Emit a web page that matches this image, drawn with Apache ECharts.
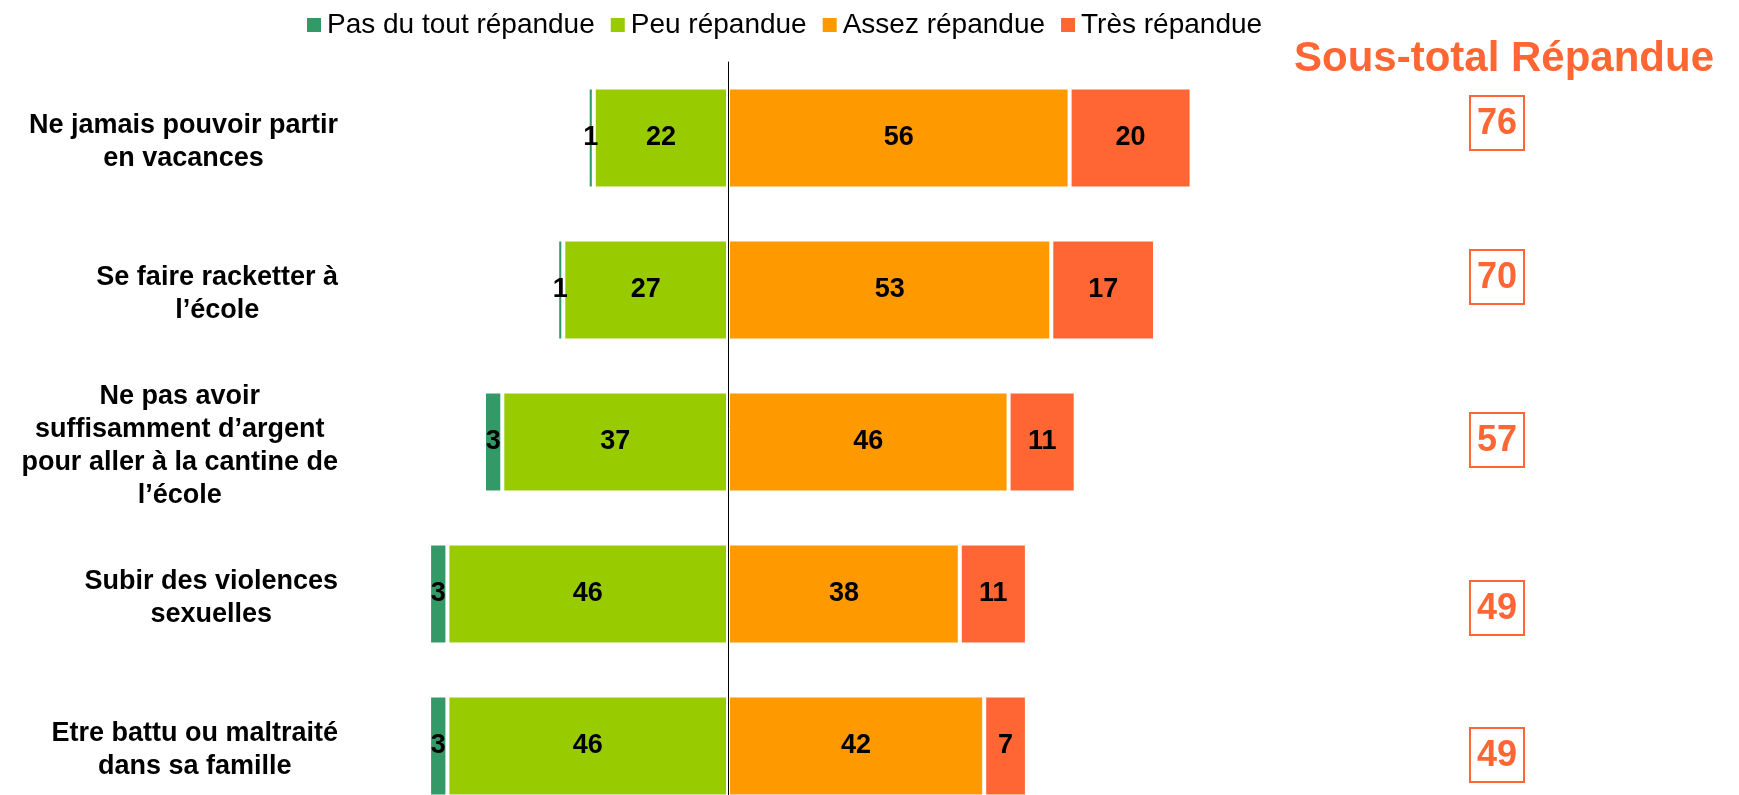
<!DOCTYPE html>
<html>
<head>
<meta charset="utf-8">
<script src="https://cdn.jsdelivr.net/npm/echarts@6/dist/echarts.min.js"></script>
<style>
  html, body { margin: 0; padding: 0; background: #fff; }
  #chart { width: 1739px; height: 795px; }
</style>
</head>
<body>
<div id="chart"></div>
<script>
  // data
  var categories = [
    'Ne jamais pouvoir partir\nen vacances',
    'Se faire racketter à\nl’école',
    'Ne pas avoir\nsuffisamment d’argent\npour aller à la cantine de\nl’école',
    'Subir des violences\nsexuelles',
    'Etre battu ou maltraité\ndans sa famille'
  ]
  var pasDuTout = [1, 1, 3, 3, 3]
  var peu = [22, 27, 37, 46, 46]
  var assez = [56, 53, 46, 38, 42]
  var tres = [20, 17, 11, 11, 7]
  var sousTotal = [76, 70, 57, 49, 49]

  var legendNames = ['Pas du tout répandue', 'Peu répandue', 'Assez répandue', 'Très répandue']
  // vertical nudge of the subtotal boxes (px), styling only
  var boxShift = [-15, -13, -2, 14, 9]

  var font = 'Liberation Sans'
  var chart = echarts.init(document.getElementById('chart'))

  function neg(arr) {
    return arr.map(function (v) { return -v })
  }

  function barLabel() {
    return {
      show: true,
      position: 'inside',
      color: '#000',
      fontFamily: font,
      fontWeight: 'bold',
      fontSize: 27,
      formatter: function (p) { return Math.abs(p.value) }
    }
  }

  function bar(name, data, color) {
    return {
      name: name,
      type: 'bar',
      stack: 'tot',
      barWidth: 101,
      data: data,
      itemStyle: { color: color, borderColor: '#fff', borderWidth: 2 },
      label: barLabel()
    }
  }

  var boxRich = {
    b: {
      color: '#FF6633', fontFamily: font, fontWeight: 'bold', fontSize: 36,
      lineHeight: 40, borderColor: '#FF6633', borderWidth: 2, padding: [10, 7, 8, 7]
    }
  }
  boxShift.forEach(function (s, i) {
    boxRich['s' + i] = { fontSize: 1, lineHeight: Math.abs(s) * 2, height: Math.abs(s) * 2 }
  })

  var option = {
    animation: false,
    backgroundColor: '#fff',
    title: {
      text: 'Sous-total Répandue',
      left: 1504,
      textAlign: 'center',
      top: 38,
      padding: 0,
      textStyle: { color: '#FF6633', fontFamily: font, fontWeight: 'bold', fontSize: 42 }
    },
    legend: {
      data: legendNames,
      left: 300,
      top: 6,
      itemWidth: 16,
      itemHeight: 16,
      itemGap: 14,
      icon: 'rect',
      textStyle: { color: '#000', fontFamily: font, fontSize: 28 }
    },
    grid: { left: 362, top: 62, width: 1098, height: 760, outerBoundsMode: 'none', containLabel: false },
    xAxis: {
      type: 'value',
      min: -60,
      max: 120,
      show: false,
      splitLine: { show: false }
    },
    yAxis: [
      {
        type: 'category',
        inverse: true,
        z: 5,
        data: categories,
        axisTick: { show: false },
        axisLine: { show: true, onZero: true, lineStyle: { color: '#000', width: 1 } },
        axisLabel: {
          align: 'right',
          margin: 24,
          padding: [9, 0, 0, 0],
          formatter: function (v) {
            return v.split('\n').map(function (l) { return '{c|' + l + '}' }).join('\n')
          },
          rich: {
            c: { align: 'center', color: '#000', fontFamily: font, fontWeight: 'bold', fontSize: 27, lineHeight: 33 }
          }
        }
      },
      {
        type: 'category',
        inverse: true,
        position: 'right',
        data: sousTotal.map(String),
        axisTick: { show: false },
        axisLine: { show: false },
        axisLabel: {
          align: 'center',
          margin: 37,
          formatter: function (v, i) {
            var s = boxShift[i]
            var box = '{b|' + v + '}'
            if (s < 0) return box + '\n{s' + i + '| }'
            if (s > 0) return '{s' + i + '| }\n' + box
            return box
          },
          rich: boxRich
        }
      }
    ],
    series: [
      bar(legendNames[1], neg(peu), '#99CC00'),
      bar(legendNames[0], neg(pasDuTout), '#339966'),
      bar(legendNames[2], assez, '#FF9900'),
      bar(legendNames[3], tres, '#FF6633')
    ]
  }

  chart.setOption(option)
</script>
</body>
</html>
